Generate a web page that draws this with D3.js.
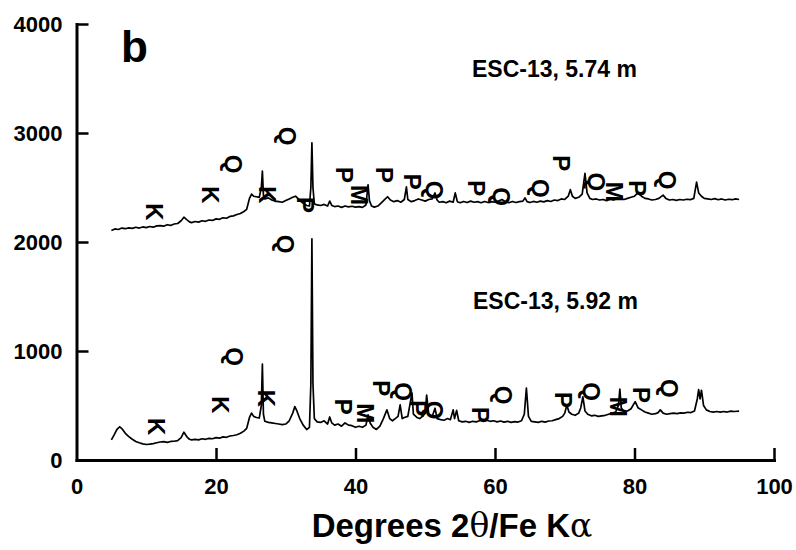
<!DOCTYPE html>
<html>
<head>
<meta charset="utf-8">
<script src="https://cdn.jsdelivr.net/npm/d3@7"></script>
<style>
  body { margin: 0; background: #fff; }
  svg text { font-family: "Liberation Sans", Arial, sans-serif; font-weight: bold; fill: #000; }
</style>
</head>
<body>
<div id="chart"></div>
<script>
// axis ticks
const xTicks = [0, 20, 40, 60, 80, 100];
const yTicks = [0, 1000, 2000, 3000, 4000];

// sample names
const sampleNames = ['ESC-13, 5.74 m', 'ESC-13, 5.92 m'];

// ESC-13, 5.74 m trace [2theta, counts]
const traceUpper = [
  [5.0,2105],[5.5,2120],[6.0,2115],[6.5,2128],[7.0,2122],[7.5,2130],[8.0,2125],[8.5,2135],[9.0,2128],[9.5,2138],
  [10.0,2132],[10.5,2142],[11.0,2136],[11.5,2148],[12.0,2150],[12.5,2145],[13.0,2158],[13.5,2152],[14.0,2165],[14.5,2170],
  [15.0,2195],[15.4,2228],[15.8,2205],[16.2,2185],[16.5,2178],[17.0,2188],[17.5,2182],[18.0,2195],[18.5,2190],[19.0,2202],
  [19.5,2198],[20.0,2212],[20.5,2208],[21.0,2222],[21.5,2218],[22.0,2235],[22.5,2240],[23.0,2252],[23.5,2262],[24.0,2280],
  [24.4,2300],[24.8,2400],[25.1,2440],[25.4,2420],[25.8,2415],[26.2,2410],[26.5,2500],[26.65,2650],[26.8,2430],[27.0,2395],
  [27.5,2405],[28.0,2385],[28.5,2375],[29.0,2370],[29.5,2365],[30.0,2380],[30.5,2395],[31.0,2410],[31.4,2420],[31.8,2395],
  [32.2,2370],[32.6,2350],[33.0,2335],[33.4,2330],[33.6,2500],[33.75,2910],[33.9,2500],[34.1,2350],[34.5,2340],[35.0,2335],
  [35.5,2345],[36.0,2330],[36.3,2375],[36.6,2335],[37.0,2325],[37.5,2330],[38.0,2318],[38.5,2330],[39.0,2322],[39.5,2328],
  [40.0,2320],[40.5,2325],[41.0,2318],[41.5,2340],[41.8,2525],[42.0,2380],[42.3,2330],[42.7,2320],[43.2,2330],[43.7,2360],
  [44.2,2390],[44.6,2415],[45.0,2385],[45.5,2370],[46.0,2380],[46.5,2365],[47.0,2390],[47.3,2505],[47.5,2390],[48.0,2370],
  [48.5,2380],[49.0,2395],[49.5,2385],[50.0,2375],[50.5,2390],[51.0,2395],[51.4,2450],[51.7,2385],[52.0,2365],[52.5,2370],
  [53.0,2360],[53.5,2375],[54.0,2365],[54.3,2450],[54.6,2370],[55.0,2360],[55.5,2372],[56.0,2362],[56.5,2375],[57.0,2365],
  [57.5,2370],[58.0,2360],[58.5,2372],[59.0,2362],[59.5,2370],[60.0,2365],[60.5,2375],[61.0,2390],[61.5,2370],[62.0,2360],
  [62.5,2372],[63.0,2362],[63.5,2370],[64.0,2375],[64.3,2405],[64.6,2370],[65.0,2362],[65.5,2372],[66.0,2365],[66.5,2375],
  [67.0,2368],[67.5,2380],[68.0,2372],[68.5,2385],[69.0,2380],[69.5,2395],[70.0,2390],[70.5,2420],[70.8,2480],[71.1,2420],
  [71.5,2400],[72.0,2410],[72.5,2440],[72.9,2630],[73.2,2450],[73.6,2400],[74.0,2390],[74.5,2395],[75.0,2385],[75.5,2390],
  [76.0,2380],[76.5,2392],[77.0,2385],[77.5,2400],[78.0,2395],[78.5,2390],[79.0,2400],[79.5,2410],[80.0,2420],[80.5,2450],
  [81.0,2420],[81.5,2400],[82.0,2395],[82.5,2385],[83.0,2390],[83.5,2400],[84.1,2430],[84.5,2400],[85.0,2385],[85.5,2390],
  [86.0,2382],[86.5,2390],[87.0,2385],[87.5,2392],[88.0,2388],[88.5,2400],[88.9,2550],[89.2,2450],[89.6,2420],[90.0,2400],
  [90.5,2395],[91.0,2390],[91.5,2398],[92.0,2388],[92.5,2395],[93.0,2385],[93.5,2392],[94.0,2388],[94.5,2395],[95.0,2390]
];

// ESC-13, 5.92 m trace [2theta, counts]
const traceLower = [
  [5.0,185],[5.4,230],[5.8,280],[6.2,305],[6.6,280],[7.0,245],[7.5,215],[8.0,190],[8.5,170],[9.0,158],
  [9.5,148],[10.0,142],[10.5,145],[11.0,150],[11.5,158],[12.0,165],[12.5,168],[13.0,162],[13.5,170],[14.0,172],
  [14.5,178],[15.0,205],[15.4,255],[15.8,215],[16.2,190],[16.5,185],[17.0,190],[17.5,185],[18.0,195],[18.5,190],
  [19.0,198],[19.5,195],[20.0,205],[20.5,200],[21.0,212],[21.5,208],[22.0,220],[22.5,225],[23.0,232],[23.5,245],
  [24.0,265],[24.4,290],[24.8,390],[25.1,430],[25.4,400],[25.8,390],[26.2,385],[26.5,500],[26.65,880],[26.8,420],
  [27.0,355],[27.5,345],[28.0,340],[28.5,335],[29.0,330],[29.5,325],[30.0,330],[30.5,360],[31.0,430],[31.3,490],
  [31.6,450],[32.0,380],[32.5,320],[33.0,280],[33.4,300],[33.6,700],[33.75,2030],[33.9,700],[34.1,380],[34.5,350],
  [35.0,345],[35.5,360],[36.0,330],[36.3,395],[36.6,340],[37.0,320],[37.5,330],[38.0,310],[38.5,340],[39.0,320],
  [39.5,315],[40.0,300],[40.5,310],[41.0,300],[41.5,320],[41.8,415],[42.1,340],[42.5,300],[43.0,280],[43.5,310],
  [44.0,380],[44.5,460],[44.9,380],[45.3,360],[45.7,380],[46.1,400],[46.4,505],[46.7,380],[47.0,390],[47.5,400],
  [48.1,615],[48.3,420],[48.8,390],[49.2,380],[49.6,400],[50.0,430],[50.2,595],[50.5,420],[51.0,400],[51.4,475],
  [51.7,380],[52.2,370],[52.7,365],[53.2,380],[53.6,370],[54.0,460],[54.2,380],[54.5,455],[54.8,360],[55.3,350],
  [55.8,355],[56.3,345],[56.8,355],[57.3,350],[57.8,360],[58.3,370],[58.8,365],[59.3,355],[59.8,360],[60.3,350],
  [60.8,358],[61.3,348],[61.8,355],[62.3,345],[62.8,352],[63.3,348],[63.8,360],[64.2,420],[64.5,660],[64.8,400],
  [65.2,355],[65.7,350],[66.2,345],[66.7,355],[67.2,348],[67.7,358],[68.2,360],[68.7,370],[69.2,380],[69.7,400],
  [70.0,430],[70.3,505],[70.6,440],[71.0,420],[71.5,410],[72.0,430],[72.3,480],[72.6,580],[72.9,450],[73.3,420],
  [73.8,405],[74.3,410],[74.8,400],[75.3,405],[75.8,410],[76.3,420],[76.8,430],[77.3,440],[77.7,500],[77.9,650],
  [78.1,480],[78.5,440],[79.0,450],[79.5,470],[80.1,535],[80.5,480],[81.0,460],[81.5,440],[82.0,430],[82.5,420],
  [83.0,425],[83.4,435],[83.7,460],[84.1,430],[84.6,420],[85.1,425],[85.6,430],[86.1,425],[86.6,432],[87.1,430],
  [87.6,438],[88.1,435],[88.6,450],[89.0,560],[89.2,645],[89.4,560],[89.6,640],[89.9,500],[90.3,460],[90.8,445],
  [91.3,440],[91.8,445],[92.3,440],[92.8,445],[93.3,440],[93.8,448],[94.3,445],[95.0,448]
];

// mineral peak labels [2theta, counts, letter]
const mineralsUpper = [
  [11.25,2275,'K'],[19.3,2431,'K'],[22.6,2716,'Q'],[27.45,2431,'K'],[30.2,2972,'Q'],[32.8,2339,'P'],
  [38.5,2615,'P'],[40.6,2431,'M'],[44.2,2615,'P'],[48.2,2553,'P'],[51.3,2477,'Q'],[57.4,2493,'P'],
  [61.0,2416,'Q'],[66.5,2493,'Q'],[69.6,2722,'P'],[74.6,2553,'Q'],[77.2,2461,'M'],[80.5,2493,'P'],[84.8,2569,'Q']
];
const mineralsLower = [
  [11.5,306,'K'],[20.6,505,'K'],[22.7,948,'Q'],[27.3,566,'K'],[30.0,1982,'Q'],[38.3,489,'P'],
  [41.4,428,'M'],[43.8,658,'P'],[46.9,627,'Q'],[49.0,474,'P'],[51.4,459,'Q'],[57.9,413,'P'],
  [61.2,596,'Q'],[69.8,550,'P'],[73.9,627,'Q'],[77.7,489,'M'],[81.0,596,'P'],[85.1,658,'Q']
];

const width = 796, height = 550;
const margin = { left: 76.5, right: 22, top: 24, bottom: 90 };

const svg = d3.select('#chart').append('svg')
  .attr('width', width)
  .attr('height', height);

const x = d3.scaleLinear().domain([0, 100]).range([margin.left, width - margin.right]);
const y = d3.scaleLinear().domain([0, 4000]).range([height - margin.bottom, margin.top]);

// traces
const line = d3.line().x(d => x(d[0])).y(d => y(d[1]));
[traceUpper, traceLower].forEach(tr => {
  svg.append('path')
    .datum(tr)
    .attr('d', line)
    .attr('fill', 'none')
    .attr('stroke', '#000')
    .attr('stroke-width', 1.7)
    .attr('stroke-linejoin', 'round');
});

// mineral letters, rotated a quarter turn
[mineralsUpper, mineralsLower].forEach(list => {
  svg.append('g').selectAll('text')
    .data(list)
    .join('text')
    .attr('transform', d => `translate(${x(d[0])},${y(d[1])}) rotate(90)`)
    .attr('text-anchor', 'middle')
    .attr('dy', '0.36em')
    .attr('font-size', 24)
    .style('font-weight', 900)
    .text(d => d[2]);
});

// axes
const xAxis = d3.axisBottom(x).tickValues(xTicks).tickSize(-12).tickSizeOuter(0).tickPadding(18)
  .tickFormat(d3.format('d'));
const yAxis = d3.axisLeft(y).tickValues(yTicks).tickSize(-12).tickSizeOuter(0).tickPadding(14)
  .tickFormat(d3.format('d'));

const gx = svg.append('g').attr('transform', `translate(0,${y(0)})`).call(xAxis);
const gy = svg.append('g').attr('transform', `translate(${x(0)},0)`).call(yAxis);

[gx, gy].forEach(g => {
  g.select('.domain').attr('stroke', '#000').attr('stroke-width', 3).attr('stroke-linecap', 'square');
  g.selectAll('.tick line').attr('stroke', '#000').attr('stroke-width', 2.5);
  g.selectAll('.tick text').attr('font-size', 22).style('font-weight', 'bold')
    .style('font-family', '"Liberation Sans", Arial, sans-serif');
});
gx.selectAll('.tick').filter(d => d === 0).select('line').remove();
gy.selectAll('.tick').filter(d => d === 0).select('line').remove();

// panel letter
svg.append('text').attr('x', 121).attr('y', 62).attr('font-size', 44).text('b');

// sample labels
svg.append('text').attr('x', 472).attr('y', 77).attr('font-size', 23).text(sampleNames[0]);
svg.append('text').attr('x', 473).attr('y', 309).attr('font-size', 23).text(sampleNames[1]);

// x axis title
const title = svg.append('text')
  .attr('x', 452).attr('y', 537)
  .attr('text-anchor', 'middle')
  .attr('font-size', 33);
title.append('tspan').text('Degrees 2');
title.append('tspan').style('font-weight', 'normal').style('font-family', '"DejaVu Serif", serif').text('θ');
title.append('tspan').text('/Fe K');
title.append('tspan').style('font-weight', 'normal').style('font-family', '"DejaVu Serif", serif').text('α');
</script>
</body>
</html>
